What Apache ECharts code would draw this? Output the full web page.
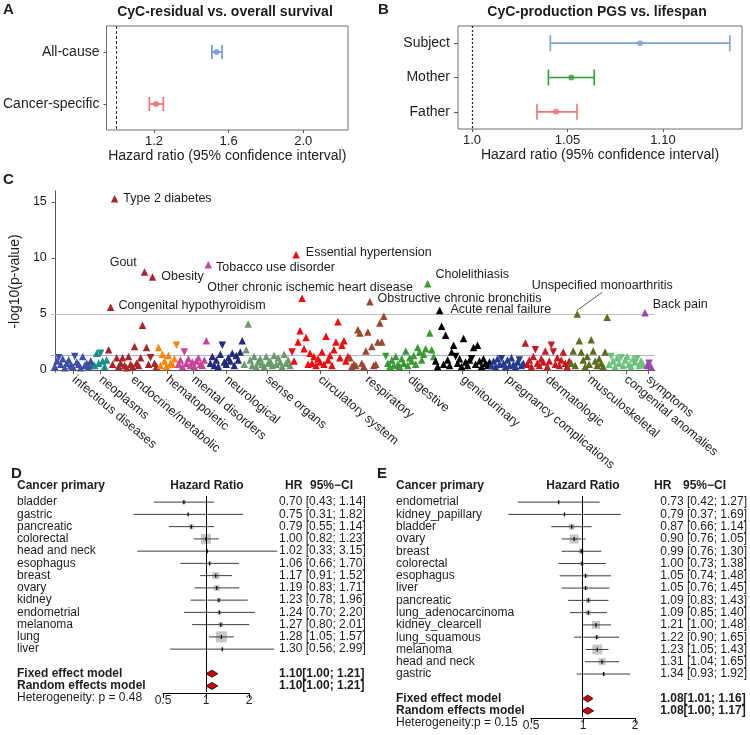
<!DOCTYPE html>
<html><head><meta charset="utf-8">
<script src="https://cdn.jsdelivr.net/npm/echarts@6/dist/echarts.min.js"></script>
<style>html,body{margin:0;padding:0;background:#fff}#c{width:750px;height:735px}</style>
</head><body><div id="c"></div>
<script>
// ---------- Panel A ----------
const aCategories = ['All-cause', 'Cancer-specific'];
const aHR = [1.535, 1.21];
const aLow = [1.51, 1.175];
const aHigh = [1.565, 1.25];
const aTicks = [1.2, 1.6, 2.0];
// ---------- Panel B ----------
const bCategories = ['Subject', 'Mother', 'Father'];
const bHR = [1.088, 1.052, 1.044];
const bLow = [1.041, 1.040, 1.034];
const bHigh = [1.135, 1.064, 1.055];
const bTicks = [1.0, 1.05, 1.10];
const bTickLabels = ['1.0', '1.05', '1.10'];
// ---------- Panel C (PheWAS, -log10 p; negative sign = inverse association, drawn as down triangle) ----------
const pheCategories = ['infectious diseases','neoplasms','endocrine/metabolic','hematopoietic','mental disorders','neurological','sense organs','circulatory system','respiratory','digestive','genitourinary','pregnancy complications','dermatologic','musculoskeletal','congenital anomalies','symptoms'];
const infectious = [0.3, 0.8, -1.1, 0.5, 1.0, 0.2, 0.6, 0.9, 0.4, 0.3, -1.2, 0.7, 0.5, 0.2, 1.2, 0.4, 0.6, 0.3, 0.8, 0.5];
const neoplasms = [0.4, 1.5, 0.6, -1.5, 0.8, 0.3, 0.9];
const endocrine = [1.8, 5.6, 0.5, 15.3, 1.1, 0.3, 0.6, 1.1, 0.4, 0.2, 1.2, 0.5, 0.3, 2.1, 0.6, 0.4, 1.1, 4.0, 8.75, 2.0, 0.5, -1.1, 8.3, 0.6, 0.3];
const hematopoietic = [2.0, 0.4, 1.4, 0.8, 0.3, 1.3, 0.6, 0.5, 1.0, -2.2];
const mental = [0.5, 0.9, 0.3, -1.6, 0.6, 1.0, 0.4, 0.7, 0.3, 0.8, 1.1, 0.5, 0.4, 0.9, 2.6, 9.4];
const neurological = [0.6, 1.2, 0.4, 0.9, 0.3, 1.4, -2.2, 0.7, 0.5, 1.1, 0.8, 1.5, 0.4, 1.3, 0.9, 1.6, 2.6];
const senseOrgans = [0.5, 1.8, 4.1, 0.9, 0.4, 1.2, 0.3, 0.7, 1.0, 0.5, 0.3, 1.2, 0.6, 0.8, 0.4, 1.3, 0.5, 1.1, 0.7, 0.3, 1.4, 0.6, 0.9, 0.4];
const circulatory = [-1.6, 0.8, 10.3, 2.5, 3.5, 6.4, 1.9, 2.9, 0.5, 1.5, 0.6, 1.2, 0.4, 1.0, 0.7, 1.6, 0.5, 3.0, 0.9, 1.3, 0.4, 1.8, 2.5, 4.3, 1.1, 2.2, 2.6, 0.8, 1.2];
const respiratory = [1.1, 0.3, 0.5, 0.4, 3.6, 3.3, 0.6, 0.3, 1.7, 3.4, 6.1, 2.1, 0.4, 0.5, 2.5, 4.2, 2.5, 4.8];
const digestive = [-1.2, 0.6, 0.3, 0.9, 0.4, 1.2, 0.5, 0.3, 1.0, 0.6, 1.7, 0.4, 1.1, 0.8, 1.3, 0.5, 2.0, 1.6, 0.9, 1.4, 1.9, 7.7, 3.3, 1.8, 1.2];
const genitourinary = [0.8, 0.3, 5.3, 3.9, 0.5, 3.1, 0.9, 0.4, 1.6, 2.2, -1.2, 0.6, 1.0, 0.3, 2.8, 0.7, 0.4, 0.9, -1.0, 2.0, 0.5, 2.2, 0.8, 0.3, 1.0, 0.6, 0.4, 0.7];
const pregnancy = [0.4, 0.8, 0.3, 1.0, 0.5, -1.0, 0.6, 0.3, 0.9, 0.4, 1.1, 0.5, 0.3, 0.7, -0.9, 0.4, 0.6];
const dermatologic = [2.4, 0.5, 0.9, 0.3, 1.2, -1.8, 0.6, 0.4, 1.0, 0.7, 1.7, 0.3, 0.8, -2.2, -1.6, 0.5, 1.1, 0.4, 0.9, 1.6, 0.6, 0.3, 0.8];
const musculoskeletal = [0.6, 1.7, 0.4, 5.0, 2.6, 1.6, 0.9, 0.3, 1.2, 0.5, 2.7, 1.7, 0.8, 0.4, 1.0, 0.6, 0.3, 1.6, 4.7];
const congenital = [0.5, -1.2, 0.8, 0.3, 1.1, 0.6, -1.1, 0.4, 0.9, 1.2, 0.5, 0.3, 1.0, 0.7, -1.0, 0.4, 0.8, 0.5];
const symptoms = [5.1, 0.4, -0.6, 0.3];
const pheValues = [infectious, neoplasms, endocrine, hematopoietic, mental, neurological, senseOrgans, circulatory, respiratory, digestive, genitourinary, pregnancy, dermatologic, musculoskeletal, congenital, symptoms];
// annotated phenotypes: [category index, index within category, name]
const pheLabels = [
  [2, 1, 'Congenital hypothyroidism'], [2, 3, 'Type 2 diabetes'], [2, 18, 'Gout'], [2, 22, 'Obesity'],
  [4, 15, 'Tobacco use disorder'], [7, 2, 'Essential hypertension'], [7, 5, 'Other chronic ischemic heart disease'],
  [8, 10, 'Obstructive chronic bronchitis'], [9, 21, 'Cholelithiasis'], [10, 2, 'Acute renal failure'],
  [13, 3, 'Unspecified monoarthritis'], [15, 0, 'Back pain']
];
const yTicksC = [0, 5, 10, 15];
// ---------- Panel D ----------
const dNames = ['bladder','gastric','pancreatic','colorectal','head and neck','esophagus','breast','ovary','kidney','endometrial','melanoma','lung','liver'];
const dHR = [0.70, 0.75, 0.79, 1.00, 1.02, 1.06, 1.17, 1.19, 1.23, 1.24, 1.27, 1.28, 1.30];
const dLo = [0.43, 0.31, 0.55, 0.82, 0.33, 0.66, 0.91, 0.83, 0.78, 0.70, 0.80, 1.05, 0.56];
const dHi = [1.14, 1.82, 1.14, 1.23, 3.15, 1.70, 1.52, 1.71, 1.96, 2.20, 2.01, 1.57, 2.99];
const dWeight = [4, 2, 5, 10, 1, 3.5, 7, 6, 4, 3.5, 5, 11, 2];
const dModels = ['Fixed effect model', 'Random effects model'];
const dModelHR = [1.10, 1.10];
const dModelLo = [1.00, 1.00];
const dModelHi = [1.21, 1.21];
const dHet = 'Heterogeneity: p = 0.48';
// ---------- Panel E ----------
const eNames = ['endometrial','kidney_papillary','bladder','ovary','breast','colorectal','esophagus','liver','pancreatic','lung_adenocarcinoma','kidney_clearcell','lung_squamous','melanoma','head and neck','gastric'];
const eHR = [0.73, 0.79, 0.87, 0.90, 0.99, 1.00, 1.05, 1.05, 1.09, 1.09, 1.21, 1.22, 1.23, 1.31, 1.34];
const eLo = [0.42, 0.37, 0.66, 0.76, 0.76, 0.73, 0.74, 0.76, 0.83, 0.85, 1.00, 0.90, 1.05, 1.04, 0.93];
const eHi = [1.27, 1.69, 1.14, 1.05, 1.30, 1.38, 1.48, 1.45, 1.43, 1.40, 1.48, 1.65, 1.43, 1.65, 1.92];
const eWeight = [2, 2, 6, 9, 5, 4, 4, 4, 5, 5, 8, 4, 10, 7, 3];
const eModels = ['Fixed effect model', 'Random effects model'];
const eModelHR = [1.08, 1.08];
const eModelLo = [1.01, 1.00];
const eModelHi = [1.16, 1.17];
const eHet = 'Heterogeneity:p = 0.15';
const forestTicks = [0.5, 1, 2];

// ================= styling =================
const FONT = '"Liberation Sans", Arial, sans-serif';
const TXT = '#1c1c1c';
const abColors = { 'All-cause': '#6f95d8', 'Cancer-specific': '#ee6b6b', 'Subject': '#7d9fdc', 'Mother': '#2e9e34', 'Father': '#ef7474' };
const pheColors = ['#3d4fa6','#17908c','#a8262a','#f7870c','#c4479c','#212a7c','#6c9a6c','#ee0b0b','#9b4630','#3b9a35','#000000','#263b90','#c8191f','#5b6e1e','#6cc17c','#9b45b3'];
const labelStyle = {
  'Type 2 diabetes': { position: 'right', offset: [1, 0] },
  'Gout': { position: 'left', offset: [0, -9] },
  'Obesity': { position: 'right', offset: [1, 0] },
  'Tobacco use disorder': { position: 'right', offset: [0, 3] },
  'Essential hypertension': { position: 'right', offset: [2, -2] },
  'Other chronic ischemic heart disease': { position: 'top', offset: [8, 4] },
  'Congenital hypothyroidism': { position: 'right', offset: [0, -2] },
  'Obstructive chronic bronchitis': { position: 'right', offset: [0, -3] },
  'Cholelithiasis': { position: 'right', offset: [0, -9] },
  'Acute renal failure': { position: 'right', offset: [3, -1] },
  'Unspecified monoarthritis': { position: 'top', offset: [0, 0] },
  'Back pain': { position: 'right', offset: [0, -8] }
};
const log2 = v => Math.log(v) / Math.LN2;

// ---------- build Manhattan series ----------
const pheSeries = [];
const pheCenters = [];
let offset = 0;
pheValues.forEach((vals, ci) => {
  const data = vals.map((v, j) => {
    const item = { value: [offset + j, Math.abs(v)], symbolRotate: v < 0 ? 180 : 0 };
    const lab = pheLabels.find(l => l[0] === ci && l[1] === j);
    if (lab) {
      const st = labelStyle[lab[2]];
      item.label = { show: true, formatter: lab[2], position: st.position, offset: st.offset, distance: 4, fontSize: 12.5, color: TXT, fontFamily: FONT };
      if (lab[2] === 'Unspecified monoarthritis') item.labelLine = { show: true, lineStyle: { color: '#333', width: 0.8 } };
    }
    return item;
  });
  pheCenters.push(offset + (vals.length - 1) / 2);
  const s = {
    type: 'scatter', xAxisIndex: 2, yAxisIndex: 2, symbol: 'triangle', symbolSize: 7.5,
    itemStyle: { color: pheColors[ci], opacity: 1 }, data: data, z: 3
  };
  if (ci === 13) {
    s.labelLayout = p => (p.dataIndex === 3 ? { dx: 25, dy: -14 } : {});
  }
  if (ci === 0) {
    s.markLine = {
      silent: true, symbol: 'none', label: { show: false }, z: 1,
      data: [
        { yAxis: 5, lineStyle: { color: '#bdbdbd', width: 1.2, type: 'solid' } },
        { yAxis: 1.3, lineStyle: { color: '#aab0dc', width: 1.2, type: 'solid' } }
      ]
    };
  }
  pheSeries.push(s);
  offset += vals.length;
});
const pheMax = offset + 1;

// ---------- helpers ----------
function errBar(capH, cats) {
  return function (params, api) {
    const y = api.value(1);
    const p1 = api.coord([api.value(2), y]);
    const p2 = api.coord([api.value(3), y]);
    const st = { stroke: abColors[cats[params.dataIndex]], lineWidth: 1.6 };
    return { type: 'group', children: [
      { type: 'line', shape: { x1: p1[0], y1: p1[1], x2: p2[0], y2: p2[1] }, style: st },
      { type: 'line', shape: { x1: p1[0], y1: p1[1] - capH, x2: p1[0], y2: p1[1] + capH }, style: st },
      { type: 'line', shape: { x1: p2[0], y1: p2[1] - capH, x2: p2[0], y2: p2[1] + capH }, style: st }
    ] };
  };
}
function forestRender(params, api) {
  const row = api.value(1);
  const c = api.coord([api.value(0), row]);
  const lo = api.coord([api.value(2), row]);
  const hi = api.coord([api.value(3), row]);
  const s = api.value(4);
  return { type: 'group', children: [
    { type: 'rect', shape: { x: c[0] - s / 2, y: c[1] - s / 2, width: s, height: s }, style: { fill: '#c6c6c6' } },
    { type: 'line', shape: { x1: lo[0], y1: lo[1], x2: hi[0], y2: hi[1] }, style: { stroke: '#3c3c3c', lineWidth: 1 } },
    { type: 'line', shape: { x1: c[0], y1: c[1] - 2, x2: c[0], y2: c[1] + 2 }, style: { stroke: '#000', lineWidth: 1.2 } }
  ] };
}
function diamondRender(params, api) {
  const row = api.value(1);
  const c = api.coord([api.value(0), row]);
  const lo = api.coord([api.value(2), row]);
  const hi = api.coord([api.value(3), row]);
  const h = 3.5;
  return { type: 'polygon', shape: { points: [[lo[0], c[1]], [c[0], c[1] - h], [hi[0], c[1]], [c[0], c[1] + h]] },
    style: { fill: '#d40000', stroke: '#000', lineWidth: 0.8 } };
}
function ciText(h, l, u) { return h.toFixed(2) + ' [' + l.toFixed(2) + '; ' + u.toFixed(2) + ']'; }
function modelText(h, l, u) { return h.toFixed(2) + '[' + l.toFixed(2) + '; ' + u.toFixed(2) + ']'; }

const dRows = dNames.concat([''], dModels);
const eRows = eNames.concat([''], eModels);
const dRight = dNames.map((n, i) => ciText(dHR[i], dLo[i], dHi[i])).concat([''], dModels.map((m, i) => modelText(dModelHR[i], dModelLo[i], dModelHi[i])));
const eRight = eNames.map((n, i) => ciText(eHR[i], eLo[i], eHi[i])).concat([''], eModels.map((m, i) => modelText(eModelHR[i], eModelLo[i], eModelHi[i])));
const dForest = dNames.map((n, i) => [log2(dHR[i]), i, log2(dLo[i]), log2(dHi[i]), dWeight[i]]);
const eForest = eNames.map((n, i) => [log2(eHR[i]), i, log2(eLo[i]), log2(eHi[i]), eWeight[i]]);
const dDiam = dModels.map((m, i) => [log2(dModelHR[i]), dNames.length + 1 + i, log2(dModelLo[i]), log2(dModelHi[i])]);
const eDiam = eModels.map((m, i) => [log2(eModelHR[i]), eNames.length + 1 + i, log2(eModelLo[i]), log2(eModelHi[i])]);

const boldRich = { b: { fontWeight: 'bold', fontSize: 12, color: TXT, fontFamily: FONT } };
function leftLabel(models) {
  return v => (models.indexOf(v) >= 0 ? '{b|' + v + '}' : v);
}
function rightLabel(texts, nNames) {
  return (v, i) => (i > nNames ? '{b|' + texts[i] + '}' : texts[i]);
}
const hidden = { show: false };

function titleText(text, left, top, size, bold, align) {
  const t = { text: text, left: left, top: top, padding: 0, textStyle: { fontSize: size, fontWeight: bold ? 'bold' : 'normal', color: TXT, fontFamily: FONT } };
  if (align) t.textAlign = align;
  return t;
}

const option = {
  animation: false,
  backgroundColor: '#fff',
  textStyle: { fontFamily: FONT },
  title: [
    titleText('A', 3, 2, 15, true),
    titleText('CyC-residual vs. overall survival', 225, 5, 14, true, 'center'),
    titleText('B', 378, 2, 15, true),
    titleText('CyC-production PGS vs. lifespan', 597, 5, 14, true, 'center'),
    titleText('C', 3, 172, 15, true),
    titleText('D', 11, 466, 15, true),
    titleText('Cancer primary', 17, 480, 12, true),
    titleText('Hazard Ratio', 207, 480, 12, true, 'center'),
    titleText('HR', 285, 480, 12, true),
    titleText('95%\u2212CI', 310, 480, 12, true),
    titleText(dHet, 17, 692, 12, false),
    titleText('E', 377, 466, 15, true),
    titleText('Cancer primary', 396, 480, 12, true),
    titleText('Hazard Ratio', 583, 480, 12, true, 'center'),
    titleText('HR', 654, 480, 12, true),
    titleText('95%\u2212CI', 683, 480, 12, true),
    titleText(eHet, 396, 717, 12, false)
  ],
  grid: [
    { left: 105, top: 26, width: 243, height: 104, show: true, borderColor: '#6e6e6e', borderWidth: 1, backgroundColor: 'transparent' },
    { left: 458, top: 26, width: 284, height: 103, show: true, borderColor: '#6e6e6e', borderWidth: 1, backgroundColor: 'transparent' },
    { left: 49, top: 190.8, width: 606, height: 181.4 },
    { left: 120, top: 496, width: 156, height: 196 },
    { left: 163, top: 692, width: 86, height: 1 },
    { left: 500, top: 496, width: 140, height: 221 },
    { left: 531, top: 717, width: 104, height: 1 }
  ],
  xAxis: [
    { type: 'value', gridIndex: 0, min: 0.945, max: 2.24, splitLine: hidden, axisLine: hidden,
      axisTick: { show: true, customValues: aTicks, length: 3, lineStyle: { color: '#555' } },
      axisLabel: { customValues: aTicks, formatter: v => v.toFixed(1), fontSize: 13, color: TXT, margin: 5 },
      name: 'Hazard ratio (95% confidence interval)', nameLocation: 'middle', nameGap: 19,
      nameTextStyle: { fontSize: 14, color: TXT } },
    { type: 'value', gridIndex: 1, min: 0.99267, max: 1.14136, splitLine: hidden, axisLine: hidden,
      axisTick: { show: true, customValues: bTicks, length: 3, lineStyle: { color: '#555' } },
      axisLabel: { customValues: bTicks, formatter: v => bTickLabels[bTicks.findIndex(t => Math.abs(t - v) < 1e-6)], fontSize: 13, color: TXT, margin: 5 },
      name: 'Hazard ratio (95% confidence interval)', nameLocation: 'middle', nameGap: 19,
      nameTextStyle: { fontSize: 14, color: TXT } },
    { type: 'value', gridIndex: 2, min: -2, max: pheMax, splitLine: hidden,
      axisLine: { show: true, lineStyle: { color: '#555', width: 1 } },
      axisTick: { show: true, customValues: pheCenters, length: 4, lineStyle: { color: '#555' } },
      axisLabel: { customValues: pheCenters, rotate: -40, margin: 6, fontSize: 12.5, color: TXT,
        formatter: v => pheCategories[pheCenters.findIndex(c => Math.abs(c - v) < 1e-6)] } },
    { type: 'value', gridIndex: 3, min: -2, max: 70 / 43, show: false, splitLine: hidden },
    { type: 'value', gridIndex: 4, min: -1, max: 1, interval: 1, splitLine: hidden,
      axisLine: { show: true, lineStyle: { color: '#000', width: 1 } },
      axisTick: { show: true, length: 5, lineStyle: { color: '#000' } },
      axisLabel: { formatter: v => String(forestTicks[v + 1]), fontSize: 12, color: TXT, margin: 2 } },
    { type: 'value', gridIndex: 5, min: -83 / 52, max: 57 / 52, show: false, splitLine: hidden },
    { type: 'value', gridIndex: 6, min: -1, max: 1, interval: 1, splitLine: hidden,
      axisLine: { show: true, lineStyle: { color: '#000', width: 1 } },
      axisTick: { show: true, length: 5, lineStyle: { color: '#000' } },
      axisLabel: { formatter: v => String(forestTicks[v + 1]), fontSize: 12, color: TXT, margin: 2 } }
  ],
  yAxis: [
    { type: 'category', gridIndex: 0, data: aCategories, inverse: true, axisLine: hidden,
      axisTick: { show: true, length: 3, alignWithLabel: true, lineStyle: { color: '#555' } },
      axisLabel: { fontSize: 14, color: TXT, margin: 7, interval: 0 } },
    { type: 'category', gridIndex: 1, data: bCategories, inverse: true, axisLine: hidden,
      axisTick: { show: true, length: 4, alignWithLabel: true, lineStyle: { color: '#555' } },
      axisLabel: { fontSize: 14, color: TXT, margin: 8, interval: 0 } },
    { type: 'value', gridIndex: 2, min: -0.2, max: 16, splitLine: hidden,
      axisLine: { show: true, lineStyle: { color: '#555', width: 1 } },
      axisTick: { show: true, customValues: yTicksC, length: 3, lineStyle: { color: '#555' } },
      axisLabel: { customValues: yTicksC, fontSize: 12.5, color: TXT, margin: 4 },
      name: '-log10(p-value)', nameLocation: 'middle', nameRotate: 90, nameGap: 17,
      nameTextStyle: { fontSize: 14, color: TXT } },
    { type: 'category', gridIndex: 3, data: dRows, inverse: true, axisLine: hidden, axisTick: hidden,
      axisLabel: { align: 'left', margin: 103, fontSize: 12, color: TXT, interval: 0, formatter: leftLabel(dModels), rich: boldRich } },
    { type: 'category', gridIndex: 3, data: dRows, inverse: true, position: 'right', axisLine: hidden, axisTick: hidden,
      axisLabel: { align: 'left', margin: 3, fontSize: 12, color: TXT, interval: 0, formatter: rightLabel(dRight, dNames.length), rich: boldRich } },
    { type: 'value', gridIndex: 4, show: false, min: 0, max: 1 },
    { type: 'category', gridIndex: 5, data: eRows, inverse: true, axisLine: hidden, axisTick: hidden,
      axisLabel: { align: 'left', margin: 104, fontSize: 12, color: TXT, interval: 0, formatter: leftLabel(eModels), rich: boldRich } },
    { type: 'category', gridIndex: 5, data: eRows, inverse: true, position: 'right', axisLine: hidden, axisTick: hidden,
      axisLabel: { align: 'left', margin: 22, fontSize: 12, color: TXT, interval: 0, formatter: rightLabel(eRight, eNames.length), rich: boldRich } },
    { type: 'value', gridIndex: 6, show: false, min: 0, max: 1 }
  ],
  series: [
    { type: 'custom', xAxisIndex: 0, yAxisIndex: 0, renderItem: errBar(7, aCategories),
      data: aCategories.map((c, i) => [aHR[i], i, aLow[i], aHigh[i]]), encode: { x: [0, 2, 3], y: 1 }, z: 3 },
    { type: 'scatter', xAxisIndex: 0, yAxisIndex: 0, symbolSize: 6, z: 4,
      data: aCategories.map((c, i) => ({ value: [aHR[i], i], itemStyle: { color: abColors[c] } })),
      markLine: { silent: true, symbol: 'none', label: { show: false }, data: [{ xAxis: 1.0 }],
        lineStyle: { color: '#333', type: [3, 2], width: 1 } } },
    { type: 'custom', xAxisIndex: 1, yAxisIndex: 1, renderItem: errBar(8, bCategories),
      data: bCategories.map((c, i) => [bHR[i], i, bLow[i], bHigh[i]]), encode: { x: [0, 2, 3], y: 1 }, z: 3 },
    { type: 'scatter', xAxisIndex: 1, yAxisIndex: 1, symbolSize: 6, z: 4,
      data: bCategories.map((c, i) => ({ value: [bHR[i], i], itemStyle: { color: abColors[c] } })),
      markLine: { silent: true, symbol: 'none', label: { show: false }, data: [{ xAxis: 1.0 }],
        lineStyle: { color: '#222', type: [2, 2], width: 1.3 } } },
    ...pheSeries,
    { type: 'scatter', xAxisIndex: 3, yAxisIndex: 3, symbolSize: 0, data: [[0, 0]], z: 1,
      markLine: { silent: true, symbol: 'none', label: { show: false }, data: [{ xAxis: 0 }],
        lineStyle: { color: '#000', type: 'solid', width: 1 } } },
    { type: 'custom', xAxisIndex: 3, yAxisIndex: 3, renderItem: forestRender, data: dForest, encode: { x: 0, y: 1 }, z: 3 },
    { type: 'custom', xAxisIndex: 3, yAxisIndex: 3, renderItem: diamondRender, data: dDiam, encode: { x: 0, y: 1 }, z: 4 },
    { type: 'scatter', xAxisIndex: 5, yAxisIndex: 6, symbolSize: 0, data: [[0, 0]], z: 1,
      markLine: { silent: true, symbol: 'none', label: { show: false }, data: [{ xAxis: 0 }],
        lineStyle: { color: '#000', type: 'solid', width: 1 } } },
    { type: 'custom', xAxisIndex: 5, yAxisIndex: 6, renderItem: forestRender, data: eForest, encode: { x: 0, y: 1 }, z: 3 },
    { type: 'custom', xAxisIndex: 5, yAxisIndex: 6, renderItem: diamondRender, data: eDiam, encode: { x: 0, y: 1 }, z: 4 }
  ]
};

const chart = echarts.init(document.getElementById('c'), null, { renderer: 'canvas' });
chart.setOption(option);
</script>
</body></html>
